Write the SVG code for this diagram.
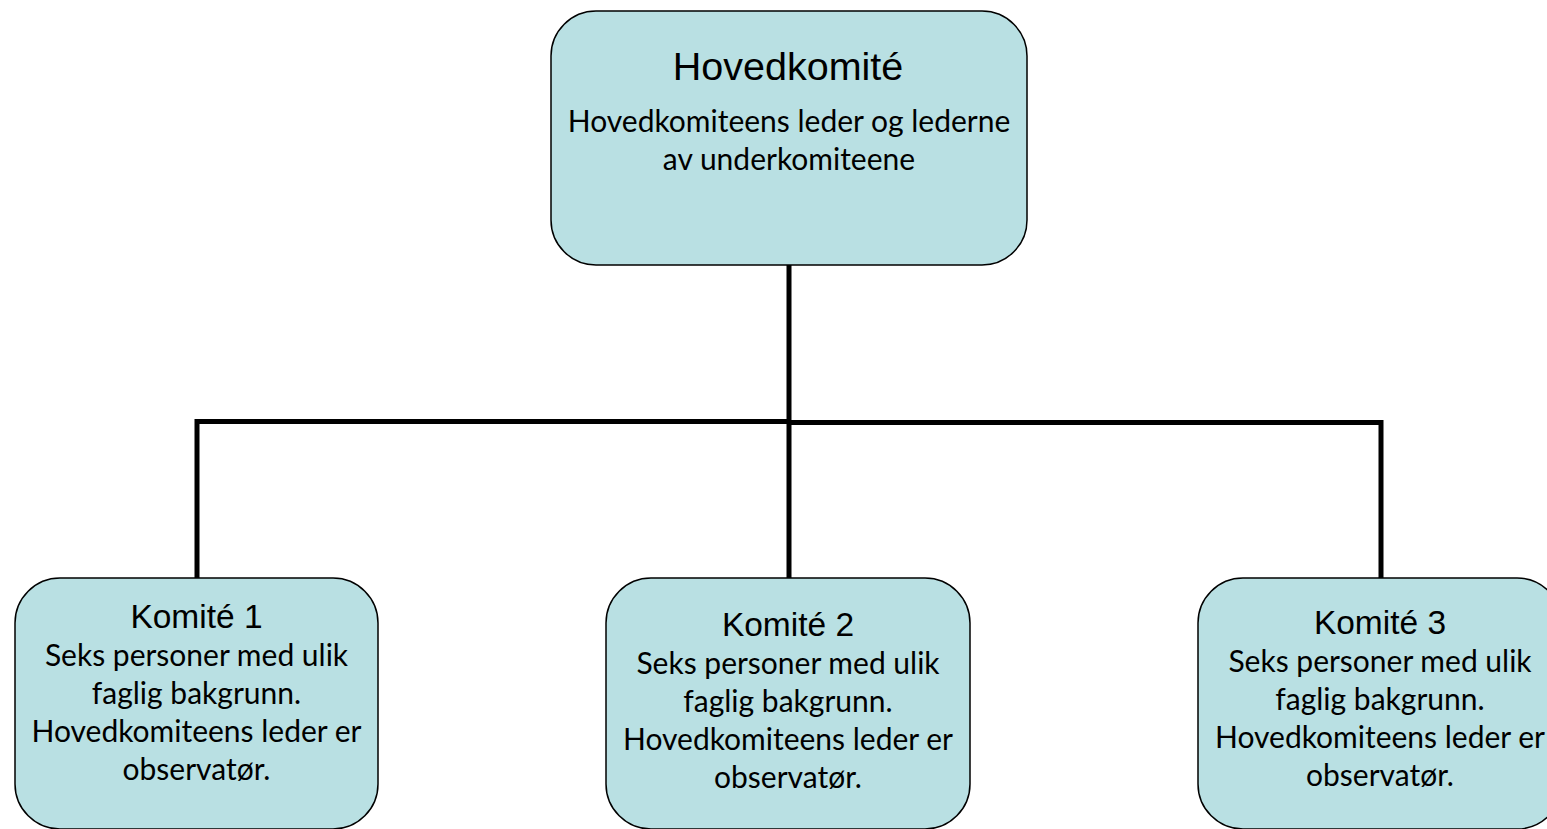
<svg xmlns="http://www.w3.org/2000/svg" width="1547" height="829" viewBox="0 0 1547 829">
<style>
.box{fill:#B9E0E3;stroke:#000;stroke-width:1.5}
.title{font-family:"Liberation Sans",Arial,sans-serif;fill:#000;text-anchor:middle}
.body{font-family:Lato,"Liberation Sans",sans-serif;font-size:30px;fill:#000;text-anchor:middle}
.conn{fill:none;stroke:#000;stroke-width:5}
</style>
<rect width="1547" height="829" fill="#fff"/>
<g id="connectors">
<line class="conn" x1="789" y1="265" x2="789" y2="578"/>
<polyline class="conn" points="197,578 197,421.5 789,421.5"/>
<polyline class="conn" points="789,422.5 1381,422.5 1381,578"/>
</g>
<g id="hovedkomite">
<rect class="box" x="551" y="11" width="476" height="254" rx="45" ry="45"/>
<text class="title" x="788" y="80" font-size="39.5">Hovedkomité</text>
<text class="body" x="789" y="132">Hovedkomiteens leder og lederne</text>
<text class="body" x="789" y="170">av underkomiteene</text>
</g>
<g id="komite1">
<rect class="box" x="15" y="578" width="363" height="251" rx="45" ry="45"/>
<text class="title" x="196.5" y="628" font-size="33.5">Komité 1</text>
<text class="body" x="196.5" y="666">Seks personer med ulik</text>
<text class="body" x="196.5" y="704">faglig bakgrunn.</text>
<text class="body" x="196.5" y="742">Hovedkomiteens leder er</text>
<text class="body" x="196.5" y="780">observatør.</text>
</g>
<g id="komite2">
<rect class="box" x="606" y="578" width="364" height="251" rx="45" ry="45"/>
<text class="title" x="788" y="636" font-size="33.5">Komité 2</text>
<text class="body" x="788" y="674">Seks personer med ulik</text>
<text class="body" x="788" y="712">faglig bakgrunn.</text>
<text class="body" x="788" y="750">Hovedkomiteens leder er</text>
<text class="body" x="788" y="788">observatør.</text>
</g>
<g id="komite3">
<rect class="box" x="1198" y="578" width="364" height="251" rx="45" ry="45"/>
<text class="title" x="1380" y="634" font-size="33.5">Komité 3</text>
<text class="body" x="1380" y="672">Seks personer med ulik</text>
<text class="body" x="1380" y="710">faglig bakgrunn.</text>
<text class="body" x="1380" y="748">Hovedkomiteens leder er</text>
<text class="body" x="1380" y="786">observatør.</text>
</g>
</svg>
